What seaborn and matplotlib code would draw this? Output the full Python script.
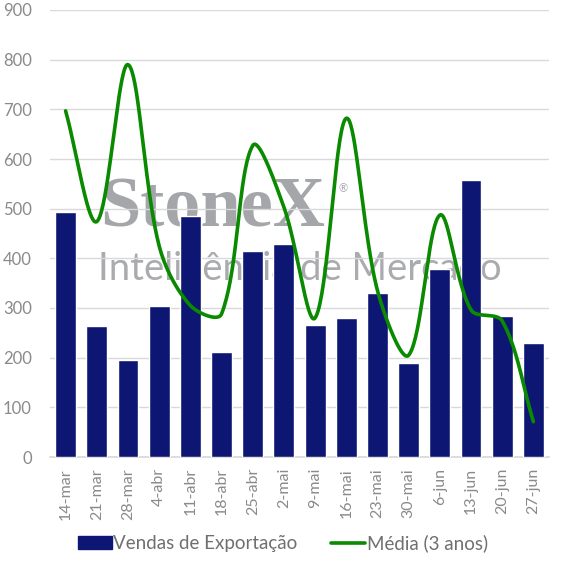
import matplotlib
matplotlib.use('Agg')
import numpy as np
import pandas as pd
import matplotlib.pyplot as plt
import seaborn as sns
from matplotlib.lines import Line2D
from matplotlib.patches import Patch

# Dados
semanas = ['14-mar', '21-mar', '28-mar', '4-abr', '11-abr', '18-abr', '25-abr', '2-mai',
           '9-mai', '16-mai', '23-mai', '30-mai', '6-jun', '13-jun', '20-jun', '27-jun']
vendas = [493, 264, 195, 305, 486, 212, 414, 429, 266, 279, 330, 190, 378, 557, 284, 229]
media_3anos = [697, 474, 790, 425, 305, 288, 627, 503, 280, 682, 335, 205, 487, 296, 274, 71]

AZUL = '#0d1773'
VERDE = '#0a8a00'
CINZA = '#8a8a8a'

sns.set_theme(style='white')
plt.rcParams['font.family'] = ['Lato', 'DejaVu Sans']

df = pd.DataFrame({'semana': semanas, 'vendas': vendas, 'media': media_3anos})

fig = plt.figure(figsize=(5.66, 5.67), dpi=100)
ax = fig.add_axes([50 / 566, 1 - 457 / 567, 499 / 566, 447 / 567])

# marca d'agua (atras das barras e da grade)
fig.text(0.177, 0.600, 'StoneX', family='Liberation Serif', fontweight='bold',
         fontsize=52, color='#a4a6aa', zorder=0)
fig.text(0.598, 0.662, '®', fontsize=8, color='#a4a6aa', zorder=0)
fig.text(0.173, 0.506, 'Inteligência de Mercado', fontsize=27.5,
         color='#a9abaf', zorder=0)
ax.set_facecolor('none')
ax.set_zorder(1)

sns.barplot(data=df, x='semana', y='vendas', color=AZUL, saturation=1,
            width=0.67, ax=ax, zorder=3)

# linha suavizada (bezier parecida com a do Excel, em coordenadas de tela)
sx, sy = 31.2, 447 / 900
xs = np.arange(len(media_3anos), dtype=float)
ys = np.array(media_3anos, dtype=float)
pts = np.column_stack([xs * sx, ys * sy])
n = len(pts)
t = np.linspace(0, 1, 40)[:, None]
curva = []
for i in range(n - 1):
    p0, p1, p2, p3 = pts[max(i - 1, 0)], pts[i], pts[i + 1], pts[min(i + 2, n - 1)]
    d01 = np.linalg.norm(p1 - p0)
    d12 = np.linalg.norm(p2 - p1)
    d23 = np.linalg.norm(p3 - p2)
    c1 = p1 + (p2 - p0) * d12 / (d01 + d12) / 3
    c2 = p2 - (p3 - p1) * d12 / (d12 + d23) / 3
    seg = (1 - t) ** 3 * p1 + 3 * (1 - t) ** 2 * t * c1 + 3 * (1 - t) * t ** 2 * c2 + t ** 3 * p2
    curva.append(seg)
curva = np.vstack(curva)
ax.plot(curva[:, 0] / sx, curva[:, 1] / sy, color=VERDE, lw=2.6, zorder=4,
        solid_capstyle='round')

ax.set_ylim(0, 900)
ax.set_xlim(-0.5, len(semanas) - 0.5)
ax.set_yticks(range(0, 901, 100))
ax.yaxis.grid(True, color='#d9d9d9', lw=1)
ax.set_axisbelow(True)
for s in ['top', 'right', 'left']:
    ax.spines[s].set_visible(False)
ax.spines['bottom'].set_color('#d9d9d9')
ax.set_xlabel('')
ax.set_ylabel('')
ax.tick_params(axis='y', length=0, labelsize=12, labelcolor=CINZA, pad=13)
ax.tick_params(axis='x', which='major', length=0, labelsize=11.5, labelcolor=CINZA,
               rotation=90, pad=8)
ax.set_xticks(np.arange(-0.5, len(semanas), 1), minor=True)
ax.tick_params(axis='x', which='minor', length=5, color='#d9d9d9', width=1)

handles = [Patch(facecolor=AZUL, edgecolor=AZUL), Line2D([], [], color=VERDE, lw=2.6)]
fig.legend(handles, ['Vendas de Exportação', 'Média (3 anos)'], loc='center',
           bbox_to_anchor=(0.5, 0.042), ncol=2, frameon=False, fontsize=13.5,
           labelcolor='#6f6f6f', handlelength=1.8, handletextpad=0.1, columnspacing=1.8)

fig.savefig('out.png', dpi=100)
plt.close(fig)
